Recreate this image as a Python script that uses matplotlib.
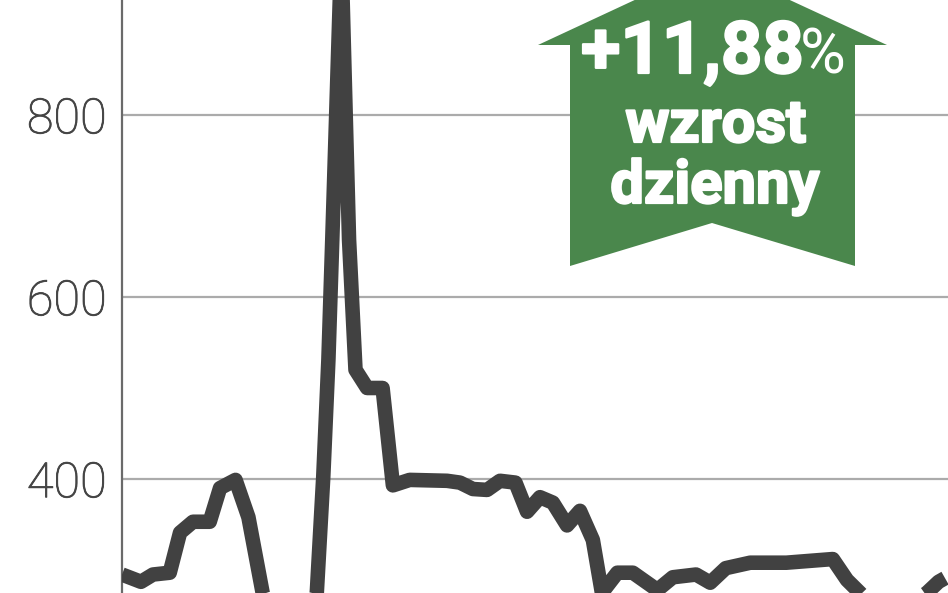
import matplotlib
matplotlib.use("Agg")
import matplotlib.pyplot as plt
from matplotlib.patches import Polygon
import matplotlib.patheffects as pe

W, H = 948, 593
days = [0, 1.47, 2.4, 3.7, 4.5, 5.5, 6.8, 7.6, 8.8, 9.8, 10.9, 11.6, 14.6, 15.1, 15.6, 16, 16.3, 17, 17.6, 18.1,
        19, 20.2, 21, 22.3, 25.2, 26.2, 27.2, 28.3, 29.3, 30.5, 31.4, 32.4, 33.4, 34.5, 35.5, 36.5, 37.2, 38.4,
        39.6, 41.5, 42.7, 44.5, 45.6, 46.8, 48.7, 51.5, 55.1, 56.2, 57.2, 58.5, 60.5, 62.4, 63.3, 63.8]
price = [295, 287, 295, 297, 341, 353, 353, 390, 399, 358, 275, 245, 245, 275, 402, 531, 663, 980, 663, 520,
         500, 500, 393, 399, 398, 396, 389, 388, 398, 396, 364, 380, 374, 349, 365, 333, 275, 297,
         297, 278, 292, 295, 286, 302, 308, 308, 312, 289, 275, 256, 256, 275, 287, 291]
yticks = [400, 600, 800]
badge_lines = ["+11,88", "wzrost", "dzienny"]
badge_pct = "%"

fig = plt.figure(figsize=(W / 100, H / 100), dpi=100, facecolor="white")
ax = fig.add_axes([122 / W, 0, 1 - 122 / W, 1])
ax.set_xlim(0, 64.03)
ax.set_ylim(274.7, 926.4)
for s in ["top", "right", "bottom"]:
    ax.spines[s].set_visible(False)
ax.spines["left"].set_color("#6a6a6a")
ax.spines["left"].set_linewidth(1.6)
ax.set_xticks([])
ax.set_yticks(yticks)
ax.tick_params(axis="y", length=0, pad=11, labelsize=35, labelcolor="#444444")
for t in ax.get_yticklabels():
    t.set_fontfamily("Roboto")
    t.set_fontweight("light")
    t.set_path_effects([pe.withStroke(linewidth=0.6, foreground="#444444")])
ax.grid(axis="y", color="#ababab", linewidth=1.6, zorder=1)
ax.set_axisbelow(True)
ax.plot(days, price, color="#414141", linewidth=10.5, solid_joinstyle="round", solid_capstyle="butt", zorder=3)


def fx(px):
    return px / W


def fy(py):
    return 1 - py / H


stroke = [pe.withStroke(linewidth=1.6, foreground="white")]
arrow = [(538, 45), (712, -36), (887, 45), (855, 45), (855, 266), (712, 223), (570, 266), (570, 45)]
fig.add_artist(Polygon([(fx(a), fy(b)) for a, b in arrow], closed=True, transform=fig.transFigure,
                       facecolor="#4a874c", edgecolor="none", zorder=5))
fig.text(fx(581), fy(73), badge_lines[0], family="Roboto", weight="bold", size=52, color="white",
         ha="left", va="baseline", zorder=6, path_effects=stroke)
fig.text(fx(846), fy(73), badge_pct, family="Roboto", weight="normal", size=45, color="white",
         ha="right", va="baseline", zorder=6)
fig.text(fx(716), fy(142), badge_lines[1], family="Roboto", weight="bold", size=43, color="white",
         ha="center", va="baseline", zorder=6, path_effects=stroke)
fig.text(fx(715), fy(203), badge_lines[2], family="Roboto", weight="bold", size=43, color="white",
         ha="center", va="baseline", zorder=6, path_effects=stroke)
fig.savefig("out.png", dpi=100)
